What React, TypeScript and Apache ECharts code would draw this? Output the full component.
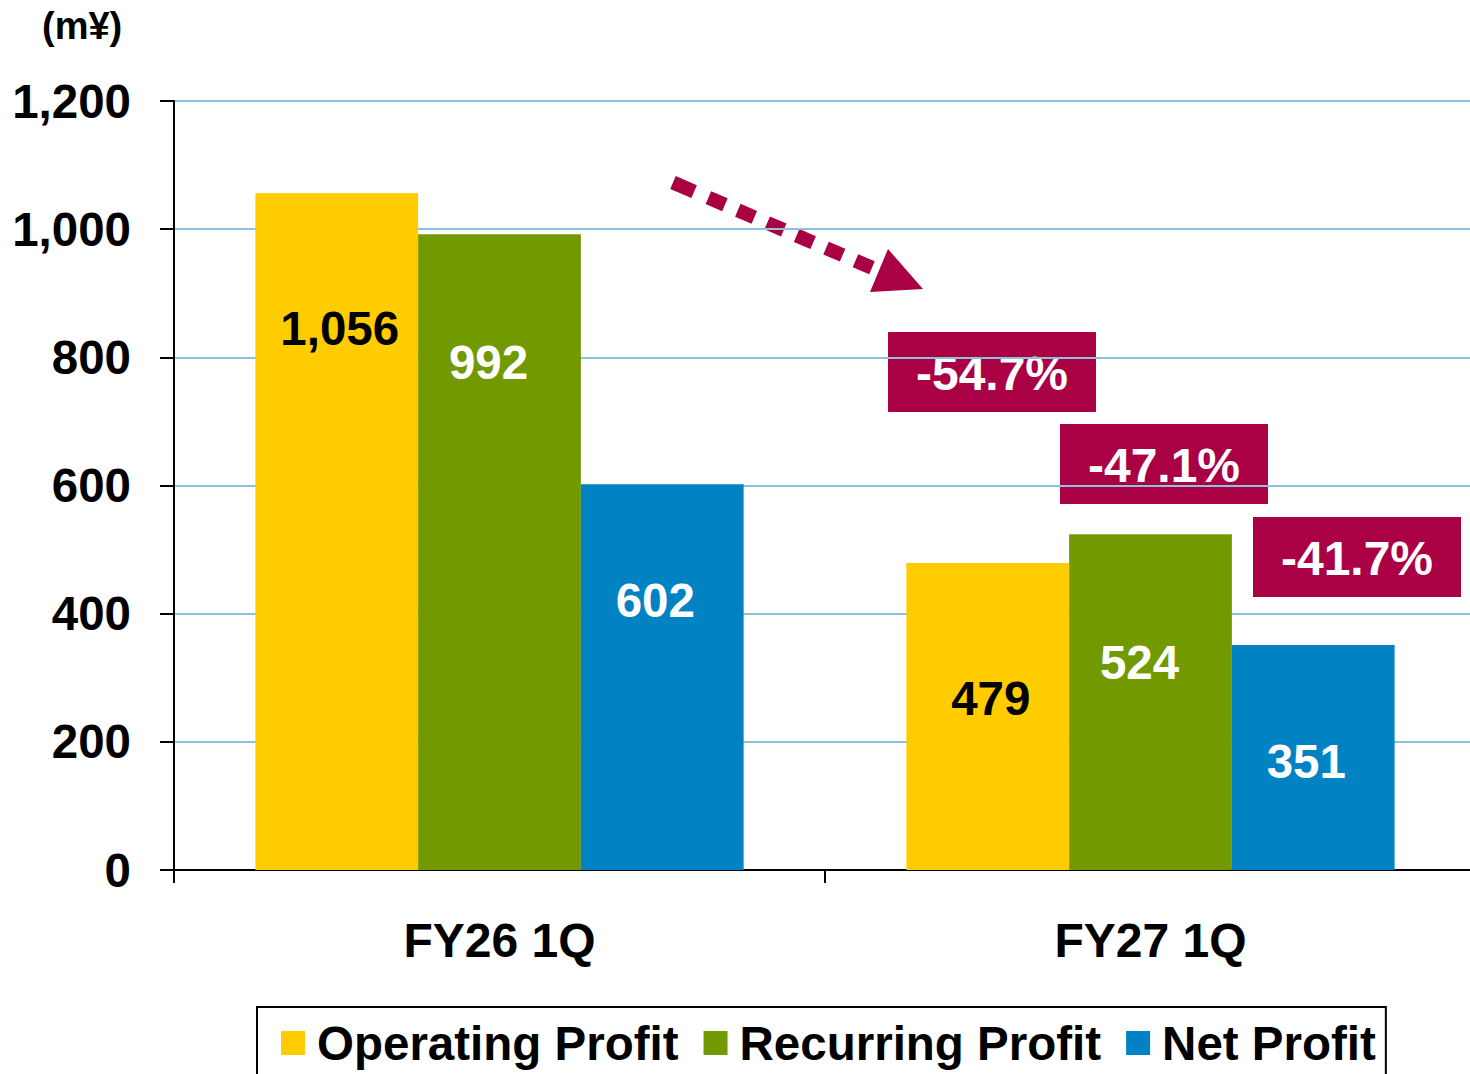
import React, { useEffect, useRef } from 'react';
import * as echarts from 'echarts';

const categories = ['FY26 1Q', 'FY27 1Q'];
const seriesNames = ['Operating Profit', 'Recurring Profit', 'Net Profit'];
const operatingProfit = [1056, 479];
const recurringProfit = [992, 524];
const netProfit = [602, 351];
const changeLabels = ['-54.7%', '-47.1%', '-41.7%'];
const unitLabel = '(m¥)';

const FONT = '"Liberation Sans", Arial, sans-serif';
const COLORS = ['#FFCC00', '#739900', '#0082C3'];
const ACCENT = '#AA0044';

export default function App() {
  const ref = useRef<HTMLDivElement>(null);

  useEffect(() => {
    document.body.style.margin = '0';
    document.body.style.overflow = 'hidden';
    if (!ref.current) return;
    const chart = echarts.init(ref.current, undefined, { renderer: 'svg' });

    const boxPositions = [
      [888, 332],
      [1060, 424],
      [1253, 517],
    ];

    const boxes = changeLabels.map((t, i) => ({
      type: 'group',
      x: boxPositions[i][0],
      y: boxPositions[i][1],
      children: [
        { type: 'rect', shape: { x: 0, y: 0, width: 208, height: 80 }, style: { fill: ACCENT } },
        {
          type: 'text',
          style: {
            text: t,
            x: 104,
            y: 41,
            align: 'center',
            verticalAlign: 'middle',
            fill: '#fff',
            font: `bold 48px ${FONT}`,
          },
        },
      ],
    }));

    const labelBase = {
      show: true,
      position: 'insideTop',
      fontSize: 47.5,
      fontWeight: 'bold',
      fontFamily: FONT,
      formatter: (p: any) => Number(p.value).toLocaleString('en-US'),
    };

    const option: any = {
      animation: false,
      backgroundColor: '#fff',
      textStyle: { fontFamily: FONT },
      grid: { left: 174, right: 0, top: 101, bottom: 204, containLabel: false },
      xAxis: {
        type: 'category',
        data: categories,
        axisLine: { show: true, lineStyle: { color: '#000', width: 2 } },
        axisTick: { show: true, length: 13, lineStyle: { color: '#000', width: 2 } },
        axisLabel: { fontSize: 48, fontWeight: 'bold', color: '#000', margin: 46, fontFamily: FONT },
        splitLine: { show: false },
      },
      yAxis: {
        type: 'value',
        min: 0,
        max: 1200,
        interval: 200,
        axisLine: { show: true, lineStyle: { color: '#000', width: 2 } },
        axisTick: { show: true, length: 14, lineStyle: { color: '#000', width: 2 } },
        axisLabel: {
          fontSize: 47.5,
          fontWeight: 'bold',
          color: '#000',
          margin: 43,
          fontFamily: FONT,
          formatter: (v: number) => v.toLocaleString('en-US'),
        },
        splitLine: { show: true, lineStyle: { color: '#8CC3DC', width: 2 } },
      },
      legend: {
        data: seriesNames,
        left: 257,
        top: 1007,
        orient: 'horizontal',
        padding: [12, 10, 24, 24],
        itemWidth: 24,
        itemHeight: 24,
        itemGap: 25,
        icon: 'rect',
        borderColor: '#000',
        borderWidth: 2,
        textStyle: { fontSize: 47.5, fontWeight: 'bold', color: '#000', fontFamily: FONT, padding: [0, 0, 0, 7] },
      },
      series: [
        {
          name: seriesNames[0],
          type: 'bar',
          data: operatingProfit,
          barGap: '0%',
          barCategoryGap: '25%',
          itemStyle: { color: COLORS[0] },
          label: { ...labelBase, distance: 111, offset: [3, 0], color: '#000' },
        },
        {
          name: seriesNames[1],
          type: 'bar',
          data: recurringProfit,
          barGap: '0%',
          barCategoryGap: '25%',
          itemStyle: { color: COLORS[1] },
          label: { ...labelBase, distance: 104, offset: [-11, 0], color: '#fff' },
        },
        {
          name: seriesNames[2],
          type: 'bar',
          data: netProfit,
          barGap: '0%',
          barCategoryGap: '25%',
          itemStyle: { color: COLORS[2] },
          label: { ...labelBase, distance: 92, offset: [-7, 0], color: '#fff' },
        },
      ],
      graphic: [
        {
          type: 'text',
          left: 42,
          top: 7,
          style: { text: unitLabel, fill: '#000', font: `bold 38px ${FONT}` },
        },
        {
          type: 'line',
          shape: { x1: 673, y1: 182.5, x2: 872, y2: 267.8 },
          style: {
            stroke: ACCENT,
            lineWidth: 14,
            lineCap: 'butt',
            lineDash: [23, 15.5, 18, 14, 18, 14, 18, 14, 18, 14, 18, 14, 18, 60],
          },
        },
        {
          type: 'polygon',
          shape: { points: [[888, 249], [923, 289], [870, 292]] },
          style: { fill: ACCENT },
        },
        ...boxes,
      ],
    };

    chart.setOption(option);
    return () => chart.dispose();
  }, []);

  return <div ref={ref} style={{ width: 1476, height: 1074 }} />;
}
